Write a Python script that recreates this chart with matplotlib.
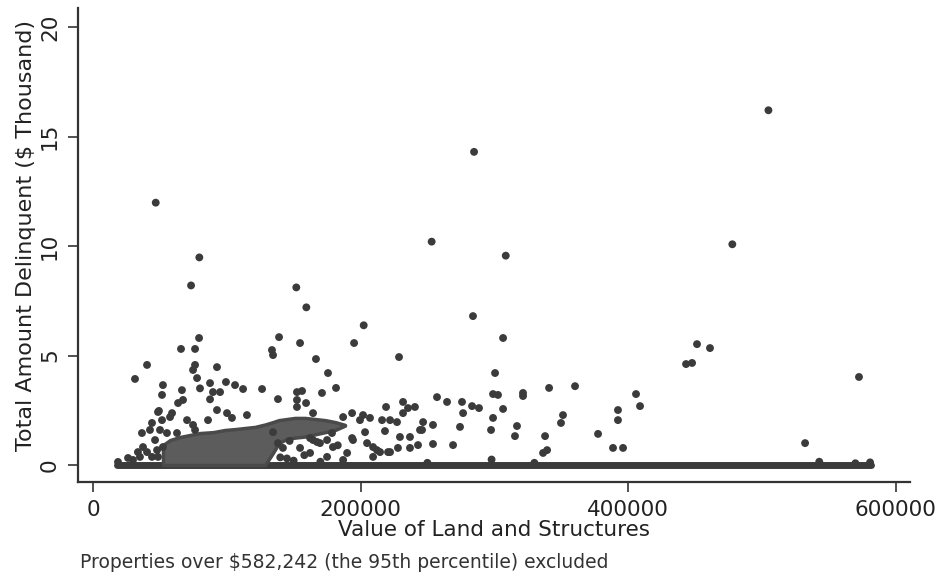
import matplotlib
matplotlib.use("Agg")
import matplotlib.pyplot as plt

plt.rcParams['font.family'] = ['DejaVu Sans']

# ---- data (value of land & structures in $, delinquent amount in $ thousand) ----
pts_x = [
    46900, 79500, 73300, 152000, 159500, 202400, 284900, 308600, 478000, 253200, 505000,
    284100, 306600, 300600, 299100, 302800, 306600, 299100, 297600, 321500, 321500,
    341000, 360400, 317000, 315500, 338000, 339500, 336500, 351400, 349900, 377600,
    392500, 392500, 388800, 396300, 406000, 409000, 443400, 447900, 451600, 461300,
    572700, 532400,
    154800, 195200, 166700, 175700, 181700, 228800, 156300, 152500, 152500, 159300,
    171200, 164500, 193700, 201900, 207100, 216100, 222100, 227300, 219100, 218300,
    231800, 235500, 240700, 231800, 257200, 264700, 275900, 283400, 288600, 276700,
    274400, 246800, 246000, 254200, 229500, 237000, 244500, 243000, 237000, 254200,
    269200, 228000, 222100, 214600, 209400, 204900, 193700, 187000, 209400, 154800,
    162300, 167500, 175000, 178700, 179400, 190000, 203400, 199600, 212300, 220600,
    80000, 87500, 89700, 87500, 95000, 99400, 106200, 112200, 126400, 138300,
    152500, 66500, 67300, 63600, 51600, 52300, 31400, 40400, 65800, 76300,
    79300, 76300, 74800, 77800, 92700, 139100, 133800, 134600, 49300, 57600,
    70300, 74800, 76300, 86000, 92700, 100200, 103900, 115100,
    26200, 33600, 37400, 36600, 42600, 44100, 46400, 47900, 50100, 48600,
    44100, 52300, 55300, 51600, 59100, 62800, 35100, 29900, 40400, 18700, 48600,
    138300, 142000, 164500, 169700, 162300, 175000, 187000, 194400, 134600,
    298000, 543000, 581000, 570000, 330000, 250000,
    145000, 150000, 158000, 170000, 183000, 140000, 147000,
]
pts_y = [
    11.98, 9.48, 8.2, 8.11, 7.2, 6.38, 14.3, 9.56, 10.08, 10.2, 16.2,
    6.8, 5.8, 4.2, 3.24, 3.2, 2.56, 2.15, 1.6, 3.29, 3.15,
    3.52, 3.6, 1.78, 1.32, 1.32, 0.68, 0.55, 2.28, 1.92, 1.42,
    2.51, 2.05, 0.78, 0.78, 3.24, 2.69, 4.61, 4.66, 5.52, 5.34,
    4.02, 1.0,
    5.57, 5.57, 4.84, 4.2, 3.52, 4.93, 3.38, 2.97, 2.65, 2.83,
    3.29, 2.37, 2.37, 2.28, 2.15, 2.05, 2.05, 1.96, 2.65, 1.55,
    2.88, 2.6, 2.65, 2.37, 3.1, 2.88, 2.88, 2.69, 2.6, 2.37,
    1.74, 1.96, 1.6, 1.83, 1.28, 1.28, 1.6, 0.91, 0.78, 0.96,
    0.91, 0.78, 0.59, 0.59, 0.82, 1.0, 1.23, 2.19, 0.37, 0.78,
    1.23, 1.05, 1.14, 1.46, 0.82, 0.55, 1.5, 2.05, 0.68, 0.59,
    3.5, 3.74, 3.33, 3.0, 3.33, 3.79, 3.65, 3.47, 3.47, 3.01,
    3.33, 3.42, 2.97, 2.83, 3.2, 3.65, 3.93, 4.57, 5.3, 5.3,
    5.8, 4.57, 4.34, 3.97, 4.47, 5.84, 5.25, 5.02, 2.47, 2.19,
    2.05, 1.83, 1.6, 2.05, 2.51, 2.37, 2.15, 2.28,
    0.32, 0.59, 0.82, 1.46, 1.6, 1.92, 1.14, 0.68, 1.6, 0.37,
    0.37, 0.82, 1.46, 2.05, 2.37, 1.46, 0.37, 0.23, 0.59, 0.14, 2.42,
    1.0, 0.78, 1.14, 1.0, 0.55, 0.37, 0.23, 1.14, 1.5,
    0.25, 0.15, 0.12, 0.08, 0.1, 0.1,
    0.3, 0.2, 0.45, 0.15, 0.9, 0.35, 1.1,
]

# dense cloud of overlapping points (envelope)
dense_x = [52300, 57600, 65000, 72500, 80000, 89700, 98700, 106200, 113600, 121100,
           128600, 134000, 139000, 145000, 151000, 158500, 166000, 173500, 181000, 188400]
dense_hi = [0.91, 1.14, 1.28, 1.37, 1.46, 1.5, 1.6, 1.64, 1.69, 1.74,
            1.85, 1.95, 2.05, 2.1, 2.15, 2.15, 2.1, 2.05, 1.96, 1.83]
dense_lo = [0, 0, 0, 0, 0, 0, 0, 0, 0, 0,
            0, 0.5, 1.0, 1.2, 1.25, 1.3, 1.4, 1.5, 1.6, 1.8]

# near-zero band of properties with (almost) nothing delinquent
base_x = [18000, 582000]
base_y = [0, 0]

x_ticks = [0, 200000, 400000, 600000]
y_ticks = [0, 5, 10, 15, 20]

# ---- figure ----
fig = plt.figure(figsize=(9.39, 5.76), dpi=100)
ax = fig.add_axes([78/939, 1 - 482/576, (910 - 78)/939, (482 - 8)/576])

dot = '#3b3b3b'
ax.plot(base_x, base_y, color=dot, lw=5, solid_capstyle='round', zorder=2)
ax.fill_between(dense_x, dense_lo, dense_hi, facecolor='#5c5c5c', edgecolor='#4a4a4a',
                lw=2.5, joinstyle='round', zorder=2)
ax.scatter(pts_x, pts_y, s=32, color=dot, edgecolors='none', zorder=3)

ax.set_xlim(-11215, 610841)
ax.set_ylim(-0.776, 20.87)

for s in ['top', 'right']:
    ax.spines[s].set_visible(False)
for s in ['left', 'bottom']:
    ax.spines[s].set_linewidth(1.6)
    ax.spines[s].set_color('#333333')

ax.set_xticks(x_ticks)
ax.set_xticklabels([str(v) for v in x_ticks])
ax.set_yticks(y_ticks)
ax.set_yticklabels([str(v) for v in y_ticks], rotation=90, va='center')
ax.tick_params(axis='both', direction='out', length=7, width=1.2, color='#333333',
               labelsize=15.5, labelcolor='#222222', pad=6)

ax.set_xlabel('Value of Land and Structures', fontsize=15.5, color='#222222', labelpad=0)
ax.set_ylabel('Total Amount Delinquent (\\$ Thousand)', fontsize=16, color='#222222')
ax.yaxis.set_label_coords(-42/832, 0.519)

fig.text(80/939, 1 - 562/576, 'Properties over \\$582,242 (the 95th percentile) excluded',
         fontsize=13.5, color='#333333', ha='left', va='center')

fig.savefig('out.png', dpi=100)
